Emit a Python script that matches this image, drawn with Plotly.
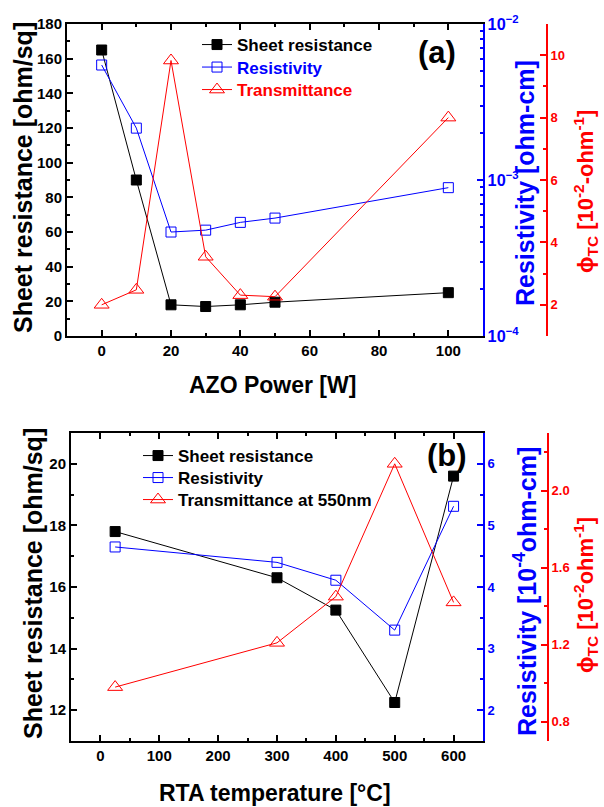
import plotly.graph_objects as go

# ---- Data panel (a) ----
power_w = [0, 10, 20, 30, 40, 50, 100]
sheet_a = [165, 90, 18, 17, 18, 19.5, 25]
resistivity_a = [5.46e-3, 2.15e-3, 4.64e-4, 4.77e-4, 5.35e-4, 5.7e-4, 8.93e-4]
phi_a = [2.0, 2.48, 9.83, 3.54, 2.31, 2.26, 8.0]

# ---- Data panel (b) ----
rta_temp = [25, 300, 400, 500, 600]
sheet_b = [17.8, 16.3, 15.25, 12.25, 19.6]
resistivity_b = [4.65, 4.4, 4.11, 3.30, 5.31]
phi_b = [0.98, 1.21, 1.45, 2.14, 1.42]

W, H = 604, 807
FONT = "Liberation Sans, Arial, sans-serif"
BLUE = "#0000ff"
RED = "#ff0000"

fig = go.Figure()

sq = dict(symbol="square", size=10, color="black", line=dict(color="black", width=1))
sqo = dict(symbol="square-open", size=10, color=BLUE, line=dict(color=BLUE, width=1))
tri = dict(symbol="triangle-up-open", size=13, color=RED, line=dict(color=RED, width=1))

fig.add_trace(go.Scatter(x=power_w, y=sheet_a, mode="lines+markers", name="Sheet resistance",
                         line=dict(color="black", width=1), marker=sq, xaxis="x", yaxis="y", legend="legend"))
fig.add_trace(go.Scatter(x=power_w, y=resistivity_a, mode="lines+markers",
                         name=f"<span style='color:{BLUE}'>Resistivity</span>",
                         line=dict(color=BLUE, width=1), marker=sqo, xaxis="x", yaxis="y2", legend="legend2"))
fig.add_trace(go.Scatter(x=power_w, y=phi_a, mode="lines+markers",
                         name=f"<span style='color:{RED}'>Transmittance</span>",
                         line=dict(color=RED, width=1), marker=tri, xaxis="x", yaxis="y3", legend="legend3"))

fig.add_trace(go.Scatter(x=rta_temp, y=sheet_b, mode="lines+markers", name="Sheet resistance",
                         line=dict(color="black", width=1), marker=sq, xaxis="x2", yaxis="y4", legend="legend4"))
fig.add_trace(go.Scatter(x=rta_temp, y=resistivity_b, mode="lines+markers", name="Resistivity",
                         line=dict(color=BLUE, width=1), marker=sqo, xaxis="x2", yaxis="y5", legend="legend5"))
fig.add_trace(go.Scatter(x=rta_temp, y=phi_b, mode="lines+markers", name="Transmittance at 550nm",
                         line=dict(color=RED, width=1), marker=tri, xaxis="x2", yaxis="y6", legend="legend6"))

tickfont_k = dict(family=FONT, size=15, color="black", weight="bold")
tickfont_b = dict(family=FONT, size=13, color=BLUE, weight="bold")
tickfont_r = dict(family=FONT, size=13, color=RED, weight="bold")


def base(color, **kw):
    d = dict(showline=True, linecolor=color, linewidth=2, ticks="inside", ticklen=6,
             tickwidth=1.5, tickcolor=color, showgrid=False, zeroline=False)
    d.update(kw)
    return d


def leg(x, top):
    return dict(x=x / W, y=1 - top / H, xanchor="left", yanchor="top", bgcolor="rgba(0,0,0,0)",
                font=dict(family=FONT, size=17, weight="bold", color="black"))


xa_dom = [67 / W, 483 / W]
ya_dom = [1 - 336 / H, 1 - 24 / H]
xb_dom = [71 / W, 483 / W]
yb_dom = [1 - 741 / H, 1 - 433 / H]

fig.update_layout(
    width=W, height=H, template="none",
    paper_bgcolor="white", plot_bgcolor="white",
    margin=dict(l=0, r=0, t=0, b=0),
    font=dict(family=FONT, color="black"),
    xaxis=base("black", domain=xa_dom, anchor="y", range=[-10, 110], dtick=20, mirror="ticks",
               minor=dict(ticks="inside", ticklen=3, dtick=10, tickcolor="black"),
               tickfont=tickfont_k),
    yaxis=base("black", domain=ya_dom, anchor="x", range=[0, 180], dtick=20,
               minor=dict(ticks="inside", ticklen=3, dtick=10, tickcolor="black"),
               tickfont=tickfont_k),
    yaxis2=base(BLUE, overlaying="y", anchor="x", side="right", type="log", range=[-4, -2],
                dtick=1, exponentformat="power", tickfont=tickfont_b,
                minor=dict(ticks="inside", ticklen=3, dtick="D1", tickcolor=BLUE)),
    yaxis3=base(RED, overlaying="y", anchor="free", position=547 / W, side="right", range=[1, 11],
                dtick=2, tickfont=tickfont_r,
                minor=dict(ticks="inside", ticklen=3, dtick=1, tickcolor=RED)),
    xaxis2=base("black", domain=xb_dom, anchor="y4", range=[-50, 650], dtick=100, mirror="ticks",
                minor=dict(ticks="inside", ticklen=3, dtick=50, tickcolor="black"),
                tickfont=tickfont_k),
    yaxis4=base("black", domain=yb_dom, anchor="x2", range=[11, 21], dtick=2,
                minor=dict(ticks="inside", ticklen=3, dtick=1, tickcolor="black"),
                tickfont=tickfont_k),
    yaxis5=base(BLUE, overlaying="y4", anchor="x2", side="right", range=[1.5, 6.5], dtick=1,
                tickfont=tickfont_b,
                minor=dict(ticks="inside", ticklen=3, dtick=0.5, tickcolor=BLUE)),
    yaxis6=base(RED, overlaying="y4", anchor="free", position=548 / W, side="right", range=[0.7, 2.3],
                dtick=0.4, tickformat=".1f", tickfont=tickfont_r,
                minor=dict(ticks="inside", ticklen=3, dtick=0.2, tickcolor=RED)),
    legend=leg(197, 27),
    legend2=leg(197, 49.5),
    legend3=leg(197, 72),
    legend4=leg(138, 438),
    legend5=leg(138, 460),
    legend6=leg(138, 482),
    showlegend=True,
)


def label(text, x, y, size, color="black", angle=0):
    return dict(text=text, x=x / W, y=1 - y / H, xref="paper", yref="paper", showarrow=False,
                xanchor="center", yanchor="middle", textangle=angle,
                font=dict(family=FONT, size=size, weight="bold", color=color))


ann = [
    label("(a)", 437, 53, 31),
    label("(b)", 447, 455, 31),
    label("Sheet resistance [ohm/sq]", 23, 178, 25, angle=-90),
    label("Sheet resistance [ohm/sq]", 33, 584, 25, angle=-90),
    label("AZO Power [W]", 272, 385, 23),
    label("RTA temperature [°C]", 275, 793, 23),
    label("Resistivity [ohm-cm]", 525, 183, 25, BLUE, -90),
    label("ϕ<sub>TC</sub> [10<sup>-2</sup>-ohm<sup>-1</sup>]", 585, 192, 22, RED, -90),
    label("Resistivity [10<sup>-4</sup>ohm-cm]", 525, 592, 25, BLUE, -90),
    label("ϕ<sub>TC</sub> [10<sup>-2</sup>ohm<sup>-1</sup>]", 585, 595, 22, RED, -90),
]
fig.update_layout(annotations=ann)

fig.write_html("out.html", config={"displayModeBar": False},
               post_script="document.body.style.margin='0';")
